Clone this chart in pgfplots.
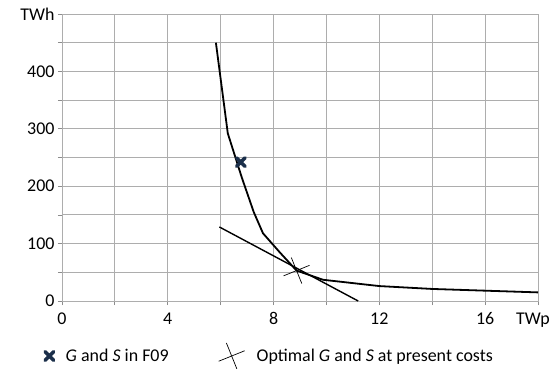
\documentclass[border=0pt]{standalone}
\usepackage{pgfplots}
\pgfplotsset{compat=1.18}
\usepackage{fontspec}
\setmainfont{Carlito}
\definecolor{gridgray}{HTML}{ADADAD}
\definecolor{axgray}{HTML}{8C8C8C}
\definecolor{navy}{HTML}{1B2F4A}
\begin{document}
\begin{tikzpicture}
\useasboundingbox (-62bp,-68bp) rectangle (493bp,301bp);
\begin{axis}[
  at={(0,0)}, anchor=south west,
  scale only axis, width=476bp, height=287bp,
  xmin=0, xmax=18, ymin=0, ymax=500,
  xtick={0,2,...,18}, xticklabels={0,,4,,8,,12,,16,\hspace*{-10bp}TWp},
  ytick={0,50,...,500}, yticklabels={0,,100,,200,,300,,400,,TWh},
  grid=major,
  major grid style={draw=gridgray, line width=0.9bp},
  axis line style={draw=gridgray, line width=0.9bp},
  tick align=outside,
  tick pos=left,
  tick style={draw=axgray, line width=0.8bp},
  major tick length=4bp,
  /pgf/number format/assume math mode=true,
  tick label style={font=\fontsize{18}{20}\selectfont, text=black},
  xticklabel style={yshift=-4bp},
  yticklabel style={xshift=0bp},
  legend columns=2,
  legend cell align=left,
  legend style={draw=none, fill=none, at={(0,0)}, anchor=west,
    xshift=-20bp, yshift=-55bp, font=\fontsize{18}{20}\selectfont,
    /tikz/every odd column/.append style={column sep=10bp},
    /tikz/every even column/.append style={column sep=48bp}},
]
\addplot[only marks, mark=x, mark size=6bp, draw=navy, line width=3.6bp, line cap=round] coordinates {(6.76,242)};
\addlegendentry{\textit{G} and \textit{S} in F09}
\addplot[only marks, mark=+, mark size=14bp, mark options={rotate=22}, draw=black, line width=0.7bp] coordinates {(8.87,53)};
\addlegendentry{Optimal \textit{G} and \textit{S} at present costs}
\addplot[black, line width=1.8bp, forget plot] coordinates {
 (5.82,450) (6.27,292) (6.8,215) (7.25,155) (7.6,118) (8.25,84) (8.87,53) (9.87,37) (12,26) (14,21) (18,15)};
\addplot[black, line width=1.4bp, forget plot] coordinates {(5.95,129) (11.2,0)};
\end{axis}
\end{tikzpicture}
\end{document}
